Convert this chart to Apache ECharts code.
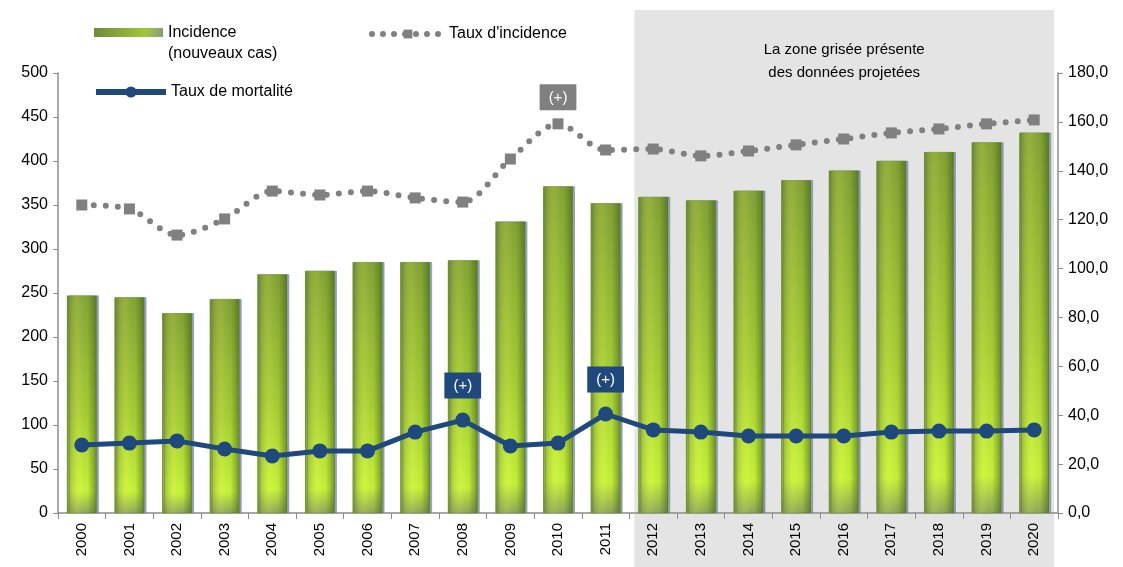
<!DOCTYPE html>
<html>
<head>
<meta charset="utf-8">
<script src="https://cdn.jsdelivr.net/npm/echarts@6/dist/echarts.min.js"></script>
<style>
  html, body { margin: 0; padding: 0; background: #fff; }
  #chart { width: 1123px; height: 567px; }
</style>
</head>
<body>
<div id="chart"></div>
<script>
var annees = ['2000', '2001', '2002', '2003', '2004', '2005', '2006', '2007', '2008', '2009', '2010',
  '2011', '2012', '2013', '2014', '2015', '2016', '2017', '2018', '2019', '2020'];
var incidence = [247, 245, 227, 243, 271, 275, 285, 285, 287, 331, 371,
  352, 359, 355, 366, 378, 389, 400, 410, 421, 432];
var tauxIncidence = [126.0, 124.4, 113.7, 120.3, 131.7, 130.1, 131.7, 128.9, 127.2, 144.8, 159.2,
  148.5, 148.9, 146.1, 148.1, 150.6, 153.0, 155.5, 157.1, 159.2, 160.8];
var tauxMortalite = [27.8, 28.6, 29.5, 26.2, 23.3, 25.4, 25.4, 33.1, 38.0, 27.4, 28.6,
  40.5, 34.0, 33.1, 31.5, 31.5, 31.5, 33.1, 33.5, 33.5, 34.0];
var debutProjection = '2012';
var hausseIncidence = ['2010'];
var hausseMortalite = ['2008', '2011'];

var police = 'Liberation Sans, Arial, sans-serif';

function avecRepere (valeurs, annees_marquees, couleur, ecart) {
  return valeurs.map(function (v, i) {
    if (annees_marquees.indexOf(annees[i]) < 0) return v;
    return {
      value: v,
      label: {
        show: true, position: 'top', distance: ecart, formatter: '(+)',
        color: '#fff', fontSize: 15, fontFamily: police,
        backgroundColor: couleur, padding: [6, 9, 5, 9]
      }
    };
  });
}

var chartDom = document.getElementById('chart');
var myChart = echarts.init(chartDom);

var option = {
  animation: false,
  textStyle: { fontFamily: police },
  grid: { left: 58, right: 65, top: 73, bottom: 54, containLabel: false },
  legend: [
    {
      data: ['Incidence'], left: 89, top: -4, itemWidth: 69, itemHeight: 9,
      icon: 'rect',
      itemStyle: {
        color: new echarts.graphic.LinearGradient(0, 0, 1, 0, [
          { offset: 0, color: '#6f8a3a' },
          { offset: 0.75, color: '#9fc83a' },
          { offset: 1, color: '#8c9a80' }
        ]),
        borderWidth: 0
      },
      // ligne vide en tête pour aligner le symbole sur la première ligne du texte
      formatter: function () { return ' \nIncidence\n(nouveaux cas)'; },
      textStyle: { fontSize: 16, color: '#000', lineHeight: 21 }
    },
    {
      data: ['Taux d\'incidence'], left: 364, top: 21, itemWidth: 72, itemHeight: 11,
      lineStyle: { width: 6, type: [0, 11], cap: 'round', color: '#808080' },
      textStyle: { fontSize: 16, color: '#000' }
    },
    {
      data: ['Taux de mortalité'], left: 88, top: 79, itemWidth: 70, itemHeight: 14,
      lineStyle: { width: 6, color: '#1f497d' },
      textStyle: { fontSize: 16, color: '#000' }
    }
  ],
  xAxis: {
    type: 'category',
    data: annees,
    axisLine: { lineStyle: { color: '#8c8c8c', width: 1.5 } },
    axisTick: { show: true, length: 6, lineStyle: { color: '#8c8c8c' } },
    axisLabel: { rotate: 90, color: '#000', fontSize: 15, margin: 10 }
  },
  yAxis: [
    {
      type: 'value', min: 0, max: 500, interval: 50,
      splitLine: { show: false },
      axisLine: { show: true, lineStyle: { color: '#8c8c8c', width: 1.5 } },
      axisTick: { show: true, length: 5, lineStyle: { color: '#8c8c8c' } },
      axisLabel: { color: '#000', fontSize: 16, margin: 10 }
    },
    {
      type: 'value', min: 0, max: 180, interval: 20,
      splitLine: { show: false },
      axisLine: { show: true, lineStyle: { color: '#8c8c8c', width: 1.5 } },
      axisTick: { show: true, length: 5, lineStyle: { color: '#8c8c8c' } },
      axisLabel: {
        color: '#000', fontSize: 16, margin: 10,
        formatter: function (v) { return v.toFixed(1).replace('.', ','); }
      }
    }
  ],
  series: [
    {
      name: 'Incidence',
      type: 'bar',
      barWidth: '62%',
      data: incidence,
      itemStyle: {
        color: new echarts.graphic.LinearGradient(0, 0, 0, 1, [
          { offset: 0, color: '#84a436' },
          { offset: 0.55, color: '#a8cf35' },
          { offset: 0.9, color: '#c9f53a' },
          { offset: 1, color: '#8fa858' }
        ]),
        borderColor: '#7fa82a', borderWidth: 0.5,
        shadowColor: 'rgba(120,140,170,0.8)', shadowOffsetX: 2, shadowBlur: 0
      },
      z: 2
    },
    {
      name: 'Incidence',
      type: 'bar',
      barWidth: '62%',
      barGap: '-100%',
      data: incidence,
      silent: true,
      itemStyle: {
        color: new echarts.graphic.LinearGradient(0, 0, 1, 0, [
          { offset: 0, color: 'rgba(70,100,30,0.5)' },
          { offset: 0.45, color: 'rgba(255,255,120,0.08)' },
          { offset: 0.7, color: 'rgba(70,100,30,0.05)' },
          { offset: 1, color: 'rgba(60,90,30,0.6)' }
        ])
      },
      z: 3
    },
    {
      name: 'Taux d\'incidence',
      type: 'line',
      yAxisIndex: 1,
      data: avecRepere(tauxIncidence, hausseIncidence, '#808080', 8),
      smooth: 0.3,
      symbol: 'rect',
      symbolSize: 11,
      itemStyle: { color: '#808080' },
      lineStyle: { color: '#808080', width: 6, type: [0, 12], cap: 'round' },
      z: 4
    },
    {
      name: 'Taux de mortalité',
      type: 'line',
      yAxisIndex: 1,
      data: avecRepere(tauxMortalite, hausseMortalite, '#1f497d', 14),
      symbol: 'circle',
      symbolSize: 15,
      itemStyle: { color: '#1f497d' },
      lineStyle: { color: '#1f497d', width: 5 },
      z: 5
    }
  ]
};

option && myChart.setOption(option);

// zone grisée des projections, calée sur l'axe des catégories
var pas = myChart.convertToPixel({ xAxisIndex: 0 }, annees[1]) - myChart.convertToPixel({ xAxisIndex: 0 }, annees[0]);
var x0 = myChart.convertToPixel({ xAxisIndex: 0 }, debutProjection) - pas / 2 + 5;
var x1 = myChart.convertToPixel({ xAxisIndex: 0 }, annees[annees.length - 1]) + pas / 2 - 4;

myChart.setOption({
  graphic: [
    {
      type: 'rect', z: -10, silent: true,
      shape: { x: x0, y: 10, width: x1 - x0, height: 557 },
      style: { fill: '#e4e4e4' }
    },
    {
      type: 'text', z: 10, silent: true,
      x: (x0 + x1) / 2, y: 38,
      style: {
        text: 'La zone grisée présente\ndes données projetées',
        fontSize: 15, fontFamily: police, fill: '#000',
        align: 'center', lineHeight: 23
      }
    }
  ]
});
</script>
</body>
</html>
